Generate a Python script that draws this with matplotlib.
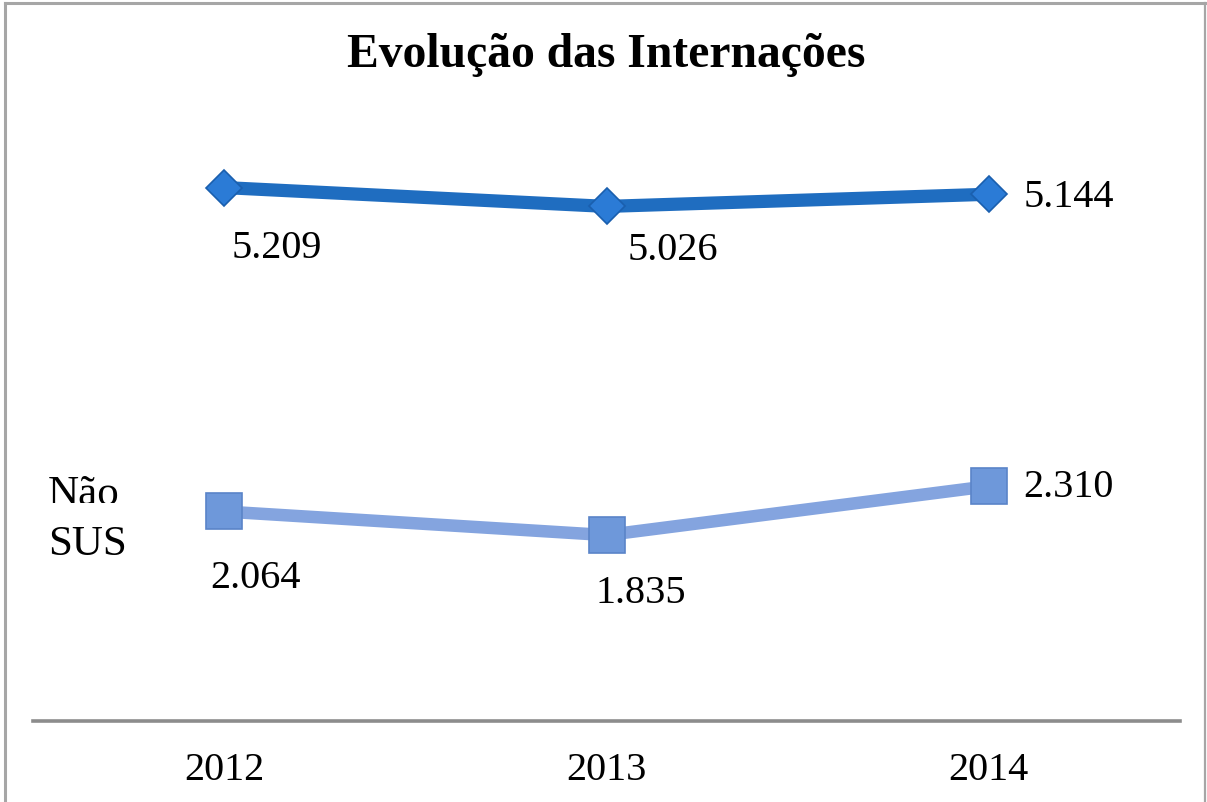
import matplotlib
matplotlib.use("Agg")
import matplotlib.pyplot as plt
from matplotlib.lines import Line2D
from matplotlib.patches import Rectangle

years = ["2012", "2013", "2014"]
sus = [5.209, 5.026, 5.144]
nao_sus = [2.064, 1.835, 2.310]
sus_labels = ["5.209", "5.026", "5.144"]
nao_sus_labels = ["2.064", "1.835", "2.310"]

W, H = 1207, 802
fig = plt.figure(figsize=(W / 100, H / 100), dpi=100)
plt.rcParams['font.family'] = ['Liberation Serif', 'DejaVu Serif']

# axes in pixel placement
left, right, bottom, top = 33, 1180, 802 - 721, 802 - 103
ax = fig.add_axes([left / W, bottom / H, (right - left) / W, (top - bottom) / H])
ax.set_xlim(-0.5, 2.5)
ax.set_ylim(0.03, 6.03)
for s in ["top", "right", "left"]:
    ax.spines[s].set_visible(False)
ax.spines["bottom"].set_color("#8c8c8c")
ax.spines["bottom"].set_linewidth(2.6)
ax.set_yticks([])
x = list(range(len(years)))
ax.set_xticks(x)
ax.set_xticklabels(years, fontsize=29, family='Liberation Serif')
ax.tick_params(axis='x', length=0, pad=22)

top_color = "#1F6DC0"
low_color = "#84A4DF"
ax.plot(x, sus, color=top_color, lw=9.5, solid_capstyle='butt', zorder=2)
ax.plot(x, sus, linestyle='none', marker='D', ms=18, mfc="#2B7BD6",
        mec="#1A5FAE", mew=1.2, zorder=3)
ax.plot(x, nao_sus, color=low_color, lw=9.0, solid_capstyle='butt', zorder=2)
ax.plot(x, nao_sus, linestyle='none', marker='s', ms=26.5, mfc="#6E98DA",
        mec="#5A84C8", mew=1.2, zorder=3)

sus_off = [(53, -61), (66, -44), (80, -3)]
low_off = [(31, -67), (34, -58), (80, -1)]
for xi, v, lab, off in zip(x, sus, sus_labels, sus_off):
    ax.annotate(lab, (xi, v), xytext=off, textcoords='offset pixels',
                ha='center', va='center', fontsize=29, color='black')
for xi, v, lab, off in zip(x, nao_sus, nao_sus_labels, low_off):
    ax.annotate(lab, (xi, v), xytext=off, textcoords='offset pixels',
                ha='center', va='center', fontsize=29, color='black')

# title
fig.text(606 / W, 1 - 55 / H, "Evolução das Internações", ha='center', va='center',
         fontsize=34.3, fontweight='bold')

# clipped series label
t1 = fig.text(48 / W, 1 - 495 / H, "Não", ha='left', va='center', fontsize=31)
clip = Rectangle((0, 802 - 503), 200, 100, transform=None)
t1.set_clip_path(clip)
fig.text(48 / W, 1 - 545 / H, "SUS", ha='left', va='center', fontsize=31)

# frame (left, top, right)
fc = "#a6a6a6"
fig.add_artist(Line2D([5 / W, 5 / W], [0, 1 - 3 / H], color=fc, lw=2.2))
fig.add_artist(Line2D([5 / W, 1205 / W], [1 - 3 / H, 1 - 3 / H], color=fc, lw=2.2))
fig.add_artist(Line2D([1205 / W, 1205 / W], [0, 1 - 3 / H], color=fc, lw=1.6))

fig.savefig("out.png", dpi=100, facecolor='white')
